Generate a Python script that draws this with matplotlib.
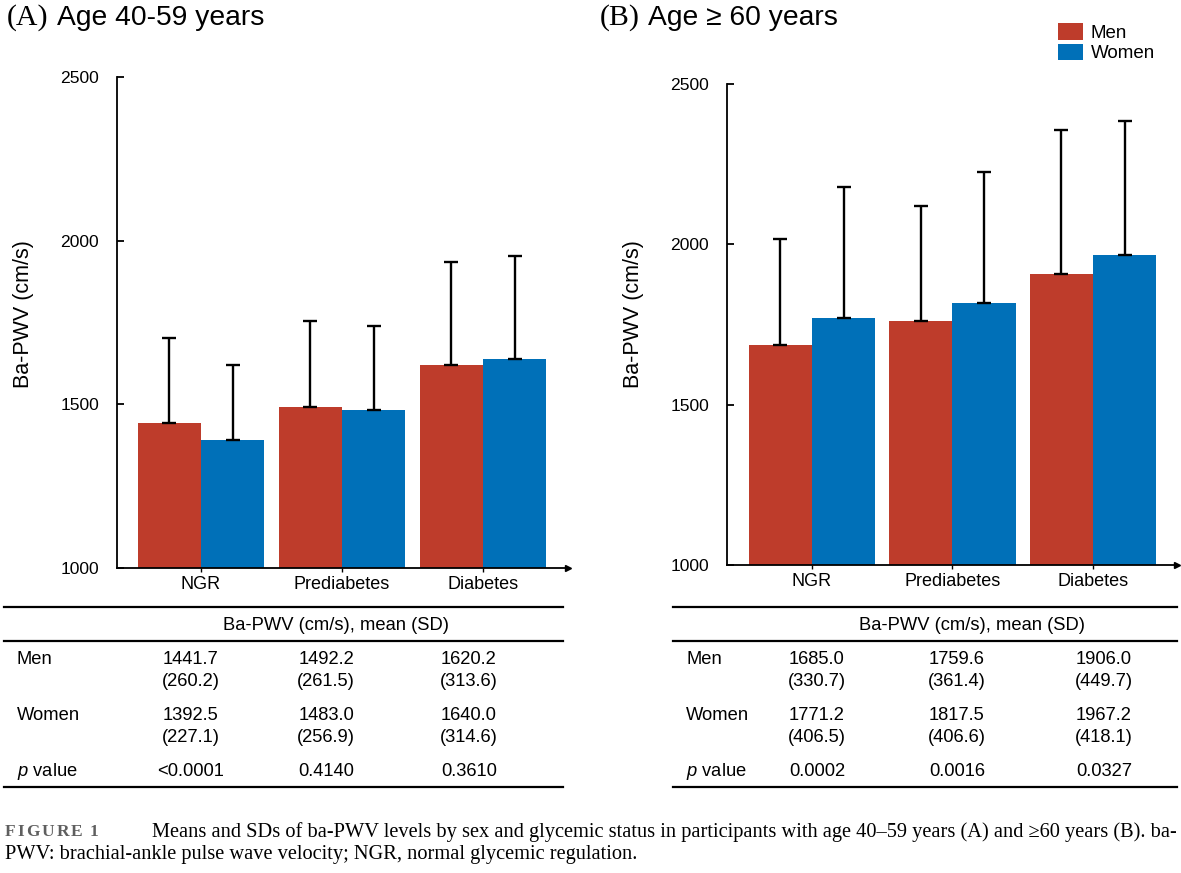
import matplotlib
matplotlib.use("Agg")
import matplotlib.pyplot as plt
import numpy as np
from matplotlib.transforms import Affine2D
from matplotlib.lines import Line2D

# ---------------- data ----------------
categories = ["NGR", "Prediabetes", "Diabetes"]
series = ["Men", "Women"]

a_men_mean = [1441.7, 1492.2, 1620.2]
a_men_sd = [260.2, 261.5, 313.6]
a_women_mean = [1392.5, 1483.0, 1640.0]
a_women_sd = [227.1, 256.9, 314.6]
a_pvalues = ["<0.0001", "0.4140", "0.3610"]

b_men_mean = [1685.0, 1759.6, 1906.0]
b_men_sd = [330.7, 361.4, 449.7]
b_women_mean = [1771.2, 1817.5, 1967.2]
b_women_sd = [406.5, 406.6, 418.1]
b_pvalues = ["0.0002", "0.0016", "0.0327"]

yticks = [1000, 1500, 2000, 2500]
ylabel = "Ba-PWV (cm/s)"
table_header = "Ba-PWV (cm/s), mean (SD)"
title_a = ("(A)", "Age 40-59 years")
title_b = ("(B)", "Age \u2265 60 years")
caption_tag = "FIGURE 1"
caption_1 = ("Means and SDs of ba-PWV levels by sex and glycemic status in participants "
             "with age 40\u201359 years (A) and \u226560 years (B). ba-")
caption_2 = "PWV: brachial-ankle pulse wave velocity; NGR, normal glycemic regulation."

RED = "#BE3C2B"
BLUE = "#0070B8"

W, H = 1181, 873
fig = plt.figure(figsize=(W / 100, H / 100), dpi=100)
plt.rcParams["font.family"] = ["Liberation Sans", "DejaVu Sans"]
plt.rcParams["mathtext.fontset"] = "custom"
plt.rcParams["mathtext.it"] = "Liberation Sans:italic"
plt.rcParams["mathtext.rm"] = "Liberation Sans"

# pixel transform (x right, y down from top)
PX = Affine2D().scale(1 / W, -1 / H).translate(0, 1) + fig.transFigure

TFS = 13.2  # table font size


def make_axes(left, right, top, bottom):
    return fig.add_axes([left / W, 1 - bottom / H, (right - left) / W, (bottom - top) / H])


def draw_panel(ax, men, men_sd, women, women_sd, xlim):
    x = np.arange(len(categories))
    bw = 0.45
    bm = ax.bar(x - bw / 2, men, bw, color=RED, linewidth=0, label=series[0])
    bwm = ax.bar(x + bw / 2, women, bw, color=BLUE, linewidth=0, label=series[1])
    ax.errorbar(x - bw / 2, men, yerr=[np.zeros(len(men)), men_sd], fmt="none",
                ecolor="black", elinewidth=1.7, capsize=5, capthick=1.7, zorder=3)
    ax.errorbar(x + bw / 2, women, yerr=[np.zeros(len(women)), women_sd], fmt="none",
                ecolor="black", elinewidth=1.7, capsize=5, capthick=1.7, zorder=3)
    ax.set_xlim(*xlim)
    ax.set_ylim(1000, 2500)
    ax.set_yticks(yticks)
    ax.set_yticklabels([str(v) for v in yticks])
    ax.set_xticks(x)
    ax.set_xticklabels(categories)
    for s in ["top", "right"]:
        ax.spines[s].set_visible(False)
    for s in ["left", "bottom"]:
        ax.spines[s].set_linewidth(1.3)
    ax.tick_params(axis="y", direction="in", length=5, width=1.3, pad=13, labelsize=12.6)
    ax.tick_params(axis="x", direction="out", length=3, width=1.0, pad=3, labelsize=13)
    ax.plot(1, 0, marker=">", color="black", markersize=4, transform=ax.transAxes,
            clip_on=False)
    ax.set_ylabel(ylabel, fontsize=15.5)
    ax.yaxis.label.set_verticalalignment("center")
    ax.set_facecolor("none")
    return bm, bwm


# Panel A
axA = make_axes(117, 568, 77, 568)
draw_panel(axA, a_men_mean, a_men_sd, a_women_mean, a_women_sd, (-0.596, 2.603))
axA.yaxis.set_label_coords((24 - 117) / (568 - 117), (568 - 314) / (568 - 77))

# Panel B
axB = make_axes(727, 1177, 84, 565)
hm, hw = draw_panel(axB, b_men_mean, b_men_sd, b_women_mean, b_women_sd, (-0.605, 2.598))
axB.yaxis.set_label_coords((634 - 727) / (1177 - 727), (565 - 314) / (565 - 84))

# Titles
for (tag, txt), x0, x1 in [(title_a, 7, 57), (title_b, 600, 648)]:
    fig.text(x0, 25, tag, transform=PX, fontsize=21.5, family="Liberation Serif",
             ha="left", va="baseline")
    fig.text(x1, 25, txt, transform=PX, fontsize=20.3, ha="left", va="baseline")

# Legend
fig.legend([hm, hw], series, loc="upper left", bbox_to_anchor=(1058, 23),
           bbox_transform=PX, frameon=False, fontsize=13.5, handlelength=1.35,
           handleheight=1.0, handletextpad=0.4, labelspacing=0.1, borderpad=0,
           borderaxespad=0)


# Tables
def draw_table(x_left, x_right, label_x, col_x, men, men_sd, women, women_sd, pvals,
               header_c):
    for y in [607, 641, 787]:
        fig.add_artist(Line2D([x_left, x_right], [y, y], transform=PX, color="black",
                              linewidth=1.6))
    fig.text(header_c, 625, table_header, transform=PX, fontsize=TFS, ha="center",
             va="center")
    rows = [("Men", 659, men, men_sd, 681), ("Women", 715, women, women_sd, 737)]
    for name, y, vals, sds, y2 in rows:
        fig.text(label_x, y, name, transform=PX, fontsize=TFS, ha="left", va="center")
        for cx, v, s in zip(col_x, vals, sds):
            fig.text(cx, y, f"{v:.1f}", transform=PX, fontsize=TFS, ha="center",
                     va="center")
            fig.text(cx, y2, f"({s:.1f})", transform=PX, fontsize=TFS, ha="center",
                     va="center")
    fig.text(label_x, 771, r"$\it{p}$ value", transform=PX, fontsize=TFS, ha="left",
             va="center")
    for cx, p in zip(col_x, pvals):
        fig.text(cx, 771, p, transform=PX, fontsize=TFS, ha="center", va="center")


draw_table(4, 563, 17, [191, 326, 469], a_men_mean, a_men_sd, a_women_mean, a_women_sd,
           a_pvalues, 336)
draw_table(673, 1177, 686, [817, 957, 1104], b_men_mean, b_men_sd, b_women_mean,
           b_women_sd, b_pvalues, 972)

# Caption
c1 = fig.text(152, 832, caption_1, transform=PX, fontsize=13,
              family="Liberation Serif", ha="left", va="center")
c2 = fig.text(5, 854, caption_2, transform=PX, fontsize=13,
              family="Liberation Serif", ha="left", va="center")
fig.canvas.draw()
r = fig.canvas.get_renderer()
w1 = c1.get_window_extent(r).width
fs = 13 * (1173 - 152) / w1
c1.set_fontsize(fs)
c2.set_fontsize(fs)

# letter-spaced "FIGURE 1" tag
xpos = 5
for ch in caption_tag:
    t = fig.text(xpos, 832, ch, transform=PX, fontsize=12.5, color="#5f5f5f",
                 family="Liberation Serif", fontweight="bold", ha="left", va="center")
    xpos += t.get_window_extent(r).width + (2.0 if ch != " " else 1)

fig.savefig("out.png", dpi=100)
